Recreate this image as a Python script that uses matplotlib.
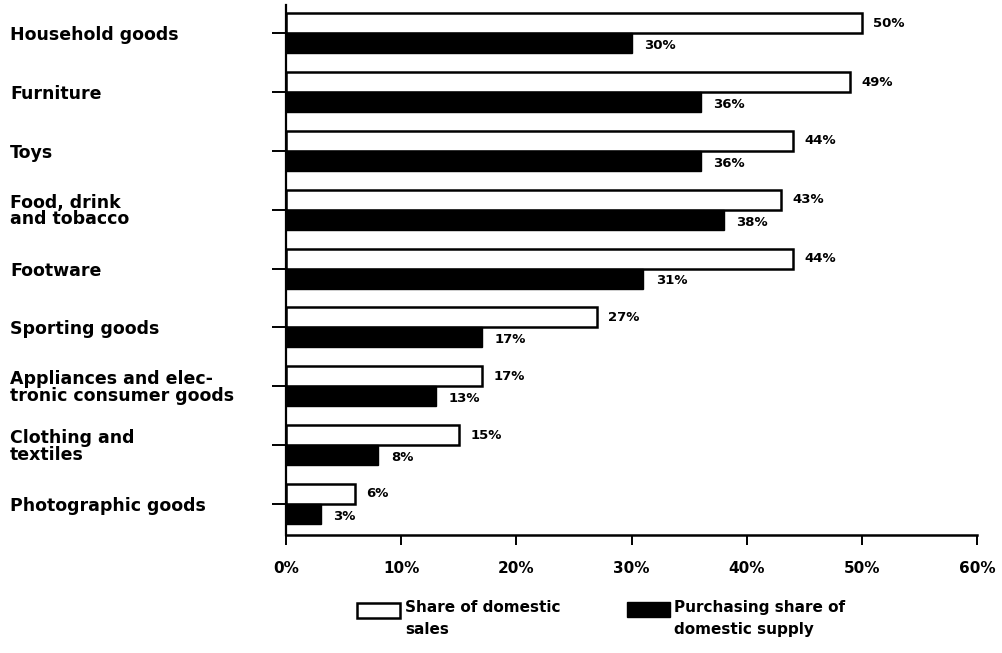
import matplotlib
matplotlib.use("Agg")
import matplotlib.pyplot as plt
from matplotlib.patches import Rectangle
import numpy as np

categories = ["Household goods", "Furniture", "Toys", "Food, drink\nand tobacco",
              "Footware", "Sporting goods", "Appliances and elec-\ntronic consumer goods",
              "Clothing and\ntextiles", "Photographic goods"]
share_sales = [50, 49, 44, 43, 44, 27, 17, 15, 6]
share_supply = [30, 36, 36, 38, 31, 17, 13, 8, 3]
xticks = [0, 10, 20, 30, 40, 50, 60]
xticklabels = ["0%", "10%", "20%", "30%", "40%", "50%", "60%"]
legend_labels = ["Share of domestic\nsales", "Purchasing share of\ndomestic supply"]

plt.rcParams['font.family'] = ['DejaVu Sans']
plt.rcParams['font.weight'] = 'bold'

W, H = 1002, 653
fig = plt.figure(figsize=(W/100, H/100), dpi=100)
ax = fig.add_axes([286/W, 1-535/H, (977-286)/W, (535-5)/H])

y = np.arange(len(categories))
h = 0.34
ax.barh(y - h/2, share_sales, height=h, color="white", edgecolor="black", linewidth=1.8)
ax.barh(y + h/2, share_supply, height=h, color="black", edgecolor="black", linewidth=1.0)

for i, (a, b) in enumerate(zip(share_sales, share_supply)):
    ax.text(a + 1.0, i - h/2, f"{a}%", va="center", ha="left", fontsize=9.5, fontweight="bold")
    ax.text(b + 1.1, i + h/2 + 0.04, f"{b}%", va="center", ha="left", fontsize=9.5, fontweight="bold")

ax.set_xlim(0, 60)
ax.set_ylim(len(categories) - 1 + 0.53, -0.48)
ax.set_xticks(xticks)
ax.set_xticklabels(xticklabels, fontsize=11, fontweight="bold")
ax.set_yticks(y)
ax.set_yticklabels(categories, fontsize=12.5, fontweight="bold", ha="left", linespacing=0.9)
ax.tick_params(axis="y", direction="out", length=10, width=1.4, pad=276 * 0.72 - 10)
ax.tick_params(axis="x", direction="out", length=7, width=1.4, pad=12)
ax.spines["top"].set_visible(False)
ax.spines["right"].set_visible(False)
ax.spines["left"].set_linewidth(1.6)
ax.spines["bottom"].set_linewidth(1.8)

# legend drawn in figure pixel coordinates
def px(x, yy):
    return x / W, 1 - yy / H

x0, y0 = px(357, 618)
fig.patches.append(Rectangle((x0, y0), 43/W, 15/H, transform=fig.transFigure,
                             facecolor="white", edgecolor="black", linewidth=1.8))
x1, y1 = px(627, 617)
fig.patches.append(Rectangle((x1, y1), 43/W, 15/H, transform=fig.transFigure,
                             facecolor="black", edgecolor="black", linewidth=1.0))
tx, ty = px(405, 600)
fig.text(tx, ty, legend_labels[0], ha="left", va="top", fontsize=11,
         fontweight="bold", linespacing=1.6)
tx, ty = px(674, 600)
fig.text(tx, ty, legend_labels[1], ha="left", va="top", fontsize=11,
         fontweight="bold", linespacing=1.6)

fig.savefig("out.png", dpi=100)
